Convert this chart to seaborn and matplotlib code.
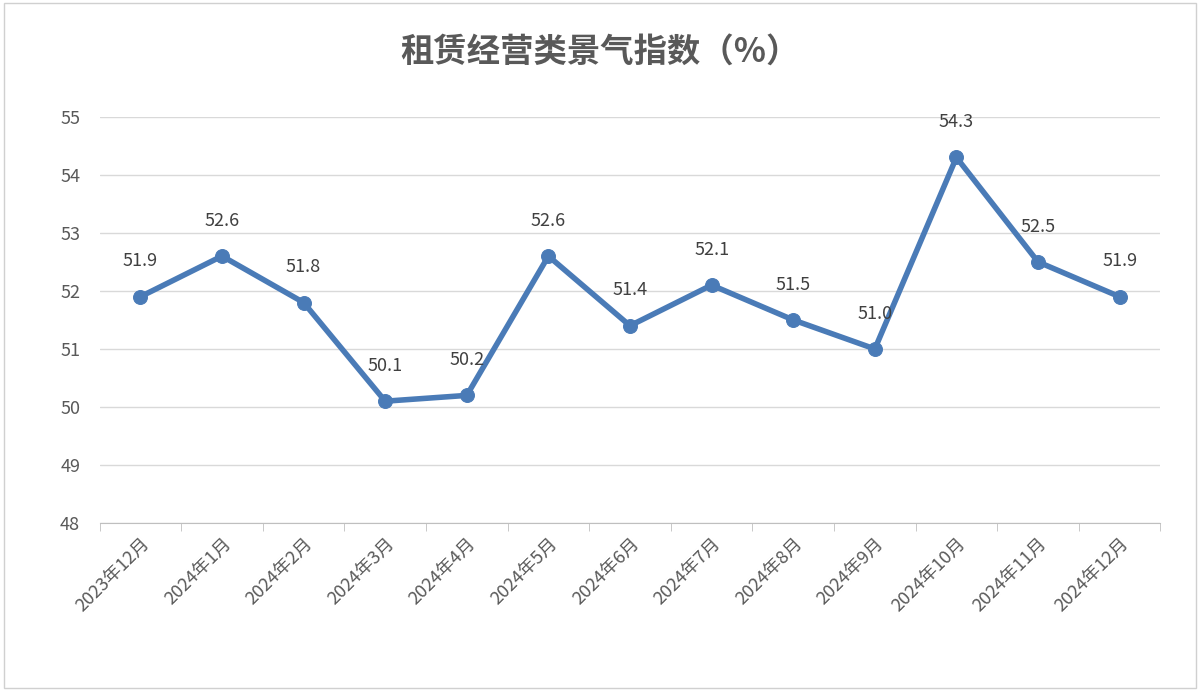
import numpy as np
import matplotlib.pyplot as plt
import seaborn as sns
from matplotlib.patches import Rectangle

months = ["2023年12月", "2024年1月", "2024年2月", "2024年3月", "2024年4月", "2024年5月",
          "2024年6月", "2024年7月", "2024年8月", "2024年9月", "2024年10月", "2024年11月", "2024年12月"]
values = [51.9, 52.6, 51.8, 50.1, 50.2, 52.6, 51.4, 52.1, 51.5, 51.0, 54.3, 52.5, 51.9]

sns.set_style("white")
plt.rcParams['font.family'] = ['Noto Sans CJK SC', 'DejaVu Sans']

fig = plt.figure(figsize=(12, 6.91), dpi=100)
ax = fig.add_axes([0.083, 0.243, 0.884, 0.588])

x = np.arange(len(months))
sns.lineplot(x=x, y=values, ax=ax, color="#4a7bb7", linewidth=4,
             marker="o", markersize=10, markeredgecolor="#4a7bb7")

for xi, v in zip(x, values):
    ax.annotate(f"{v:.1f}", (xi, v), xytext=(0, 19), textcoords="offset points",
                ha="center", va="bottom", fontsize=13, color="#404040")

ax.set_xlim(-0.5, len(months) - 0.5)
ax.set_ylim(48, 55)
ax.set_yticks(range(48, 56))
ax.yaxis.grid(True, color="#d9d9d9", linewidth=1)
ax.set_xticks(x)
ax.set_xticklabels(months, rotation=45, ha="right", rotation_mode="anchor",
                   fontsize=13, color="#595959")
ax.set_xticks(np.arange(-0.5, len(months), 1), minor=True)
ax.tick_params(axis="x", which="major", length=0, pad=8)
ax.tick_params(axis="x", which="minor", length=6, color="#bfbfbf", bottom=True)
ax.tick_params(axis="y", length=0, labelsize=13, labelcolor="#595959", pad=14)
for s in ["top", "right", "left"]:
    ax.spines[s].set_visible(False)
ax.spines["bottom"].set_color("#bfbfbf")

fig.text(0.5, 0.925, "租赁经营类景气指数（%）", ha="center", va="center",
         fontsize=24, color="#595959", fontweight="bold")
fig.patches.append(Rectangle((0.003, 0.004), 0.994, 0.992, transform=fig.transFigure,
                             fill=False, edgecolor="#d0d0d0", linewidth=1))

fig.savefig("out.png", dpi=100)
